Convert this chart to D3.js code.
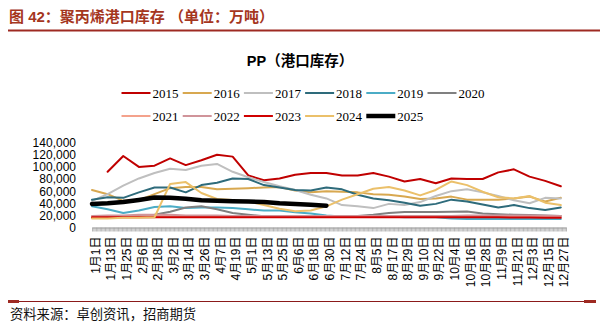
<!DOCTYPE html>
<html>
<head>
<meta charset="utf-8">
<script src="https://cdn.jsdelivr.net/npm/d3@7"></script>
<style>
  body { margin: 0; background: #fff; }
  svg { display: block; }
</style>
</head>
<body>
<svg id="chart" width="600" height="326"></svg>
<script>
// categories: one per day of the year, tick label every 12 days
var monthLengths = [31, 28, 31, 30, 31, 30, 31, 31, 30, 31, 30, 31]
var dayLabels = []
monthLengths.forEach(function (n, m) {
  for (var d = 1; d <= n; d++) dayLabels.push((m + 1) + "月" + d + "日")
})
var sampleStep = 12   // series below are read every 12 days (1月1日, 1月13日, ...)

var years = ["2015", "2016", "2017", "2018", "2019", "2020", "2021", "2022", "2023", "2024", "2025"]
var colors = ["#C00000", "#D8A850", "#BFBFBF", "#2E6B7B", "#4BACC6", "#808080", "#F4A28C", "#D0949A", "#D00000", "#EBC06A", "#000000"]

// values in thousands of tonnes
var v2015 = [null, 92, 118, 100, 102, 114, 103, 111, 120, 117, 86, 78, 81, 87, 90, 90, 86, 86, 90, 84, 76, 80, 73, 81, 80, 80, 91, 96, 84, 77, 68]
var v2016 = [62, 55, 44, 45, 55, 65, 67, 67, 63, 64, 65, 66, 67, 61, 58, 60, 59, 58, 55, 54, 51, 47, 48, 51, 46, 46, 46, 48, 51, 43, 49]
var v2017 = [44, 55, 69, 81, 90, 97, 95, 102, 105, 92, 83, 75, 68, 62, 54, 48, 37, 35, 32, 39, 37, 42, 52, 60, 63, 58, 52, 45, 40, 49, 48]
var v2018 = [46, 50, 49, 58, 66, 66, 58, 70, 74, 81, 80, 70, 66, 62, 61, 66, 63, 54, 48, 45, 41, 36, 39, 46, 43, 38, 33, 37, 32, 29, 33]
var v2019 = [35, 30, 24, 28, 34, 35, 32, 33, 33, 32, 30, 28, 28, 25, 23, 20, 18, 18, 18, 18, 17, 17, 17, 15, 14, 14, 14, 14, 14, 14, 14]
var v2020 = [15.5, 17, 18.5, 19.5, 21, 26, 33, 35, 30, 24, 21, 18.5, 18, 18, 18, 18, 18, 19, 21, 24, 25.5, 25.5, 25.5, 26, 26.5, 23, 22, 21, 20.5, 20, 19]
var v2021 = [16, 17, 18, 18, 19, 19, 19, 19, 19, 19, 19, 18.5, 18, 18, 18, 18, 18, 18, 18, 18, 18, 18, 18.5, 19, 19, 19, 19, 19, 19, 19, 18.5]
var v2022 = [19, 20, 20, 21, 21, 21, 20, 20, 20, 19, 19, 19, 19, 19, 19, 19, 19, 19, 19, 19, 19, 19, 19, 19, 20, 20, 20, 20, 20, 19.5, 19]
var v2023 = [17, 17, 17, 17, 17, 17, 17, 17, 17, 17, 17, 17, 17, 17, 17, 17, 17, 17, 17, 17, 17, 17, 17, 17, 17, 17, 17, 16.5, 16.5, 16, 16]
var v2024 = [15, 15, 16, 16, 17, 72, 75, 57, 47, 45.5, 43, 37, 31, 27, 28, 35, 46, 55, 64, 67, 61, 53, 62, 76, 70, 59, 50, 48, 52, 41, 37]
var v2025 = [39, 40, 42, 45.5, 49.5, 49, 47.5, 45, 44, 43.5, 43, 42, 40, 39, 37.5, 36]
var seriesValues = [v2015, v2016, v2017, v2018, v2019, v2020, v2021, v2022, v2023, v2024, v2025]

var yTicks = [0, 20000, 40000, 60000, 80000, 100000, 120000, 140000]

var svg = d3.select("#chart")
var cjk = "'Liberation Sans', Arial, 'Noto Sans CJK SC', sans-serif"

// header
svg.append("text")
  .attr("x", 9).attr("y", 22)
  .style("font-family", cjk).style("font-size", "15px").style("font-weight", "bold")
  .style("fill", "#A5361E")
  .text("图 42：聚丙烯港口库存 （单位：万吨）")
svg.append("line")
  .attr("x1", 8).attr("x2", 600).attr("y1", 30.5).attr("y2", 30.5)
  .style("stroke", "#9E2A22").style("stroke-width", 2)

// chart title
svg.append("text")
  .attr("x", 300).attr("y", 66).attr("text-anchor", "middle")
  .style("font-family", cjk).style("font-size", "14.5px").style("font-weight", "bold")
  .style("fill", "#000")
  .text("PP（港口库存）")

// legend
var legend = svg.append("g")
years.forEach(function (yr, i) {
  var col = i < 6 ? i : i - 6
  var row = i < 6 ? 0 : 1
  var lx = 121.5 + col * 61.2
  var ly = 93 + row * 23
  var g = legend.append("g").attr("transform", "translate(" + lx + "," + ly + ")")
  g.append("line").attr("x1", 0).attr("x2", 29).attr("y1", 0).attr("y2", 0)
    .style("stroke", colors[i]).style("stroke-width", yr === "2025" ? 4.5 : 2)
  g.append("text").attr("x", 31).attr("y", 4.5)
    .style("font-family", "'Liberation Serif', 'Times New Roman', serif")
    .style("font-size", "13px").style("fill", "#000")
    .text(yr)
})

// scales
var x = d3.scalePoint().domain(dayLabels).range([92, 566])
var y = d3.scaleLinear().domain([0, 140000]).range([227.5, 142.7])

// y labels
var yAxis = svg.append("g")
  .attr("transform", "translate(76,0)")
  .call(d3.axisLeft(y).tickValues(yTicks).tickSize(0).tickPadding(0).tickFormat(d3.format(",")))
yAxis.select(".domain").remove()
yAxis.selectAll("text")
  .style("font-family", "'Liberation Sans', Arial, sans-serif")
  .style("font-size", "12px").style("fill", "#000")

// x axis: a tick on every day, label every 12th
var xAxis = svg.append("g")
  .attr("transform", "translate(0," + y(0) + ")")
  .call(d3.axisBottom(x).tickSizeOuter(0).tickSizeInner(4)
    .tickFormat(function (d, i) { return i % sampleStep === 0 ? d : "" }))
xAxis.select(".domain").style("stroke", "#A6A6A6").style("stroke-width", 1)
xAxis.selectAll(".tick line").style("stroke", "#9A9A9A").style("stroke-width", 0.7)
xAxis.selectAll(".tick text")
  .attr("transform", "translate(3,0) rotate(-90)")
  .attr("x", -9).attr("y", 0).attr("dy", "0.35em")
  .style("text-anchor", "end")
  .style("font-family", cjk).style("font-size", "12px").style("fill", "#000")

// series lines
var line = d3.line()
  .defined(function (d) { return d.v !== null })
  .x(function (d) { return x(dayLabels[d.i * sampleStep]) })
  .y(function (d) { return y(d.v * 1000) })

var plot = svg.append("g")
seriesValues.forEach(function (vals, s) {
  var pts = vals.map(function (v, i) { return { i: i, v: v } })
  plot.append("path")
    .datum(pts)
    .attr("d", line)
    .style("fill", "none")
    .style("stroke", colors[s])
    .style("stroke-width", years[s] === "2025" ? 4.5 : 2)
    .style("stroke-linejoin", "round")
    .style("stroke-linecap", "round")
})

// footer
svg.append("line")
  .attr("x1", 8).attr("x2", 596).attr("y1", 301.5).attr("y2", 301.5)
  .style("stroke", "#8B1A1A").style("stroke-width", 1.2)
svg.append("line")
  .attr("x1", 8).attr("x2", 19).attr("y1", 301.5).attr("y2", 301.5)
  .style("stroke", "#9E2A22").style("stroke-width", 3)
svg.append("line")
  .attr("x1", 584).attr("x2", 596).attr("y1", 301.5).attr("y2", 301.5)
  .style("stroke", "#9E2A22").style("stroke-width", 3)
svg.append("text")
  .attr("x", 10).attr("y", 319)
  .style("font-family", cjk).style("font-size", "13.3px").style("fill", "#111")
  .text("资料来源：卓创资讯，招商期货")
</script>
</body>
</html>
